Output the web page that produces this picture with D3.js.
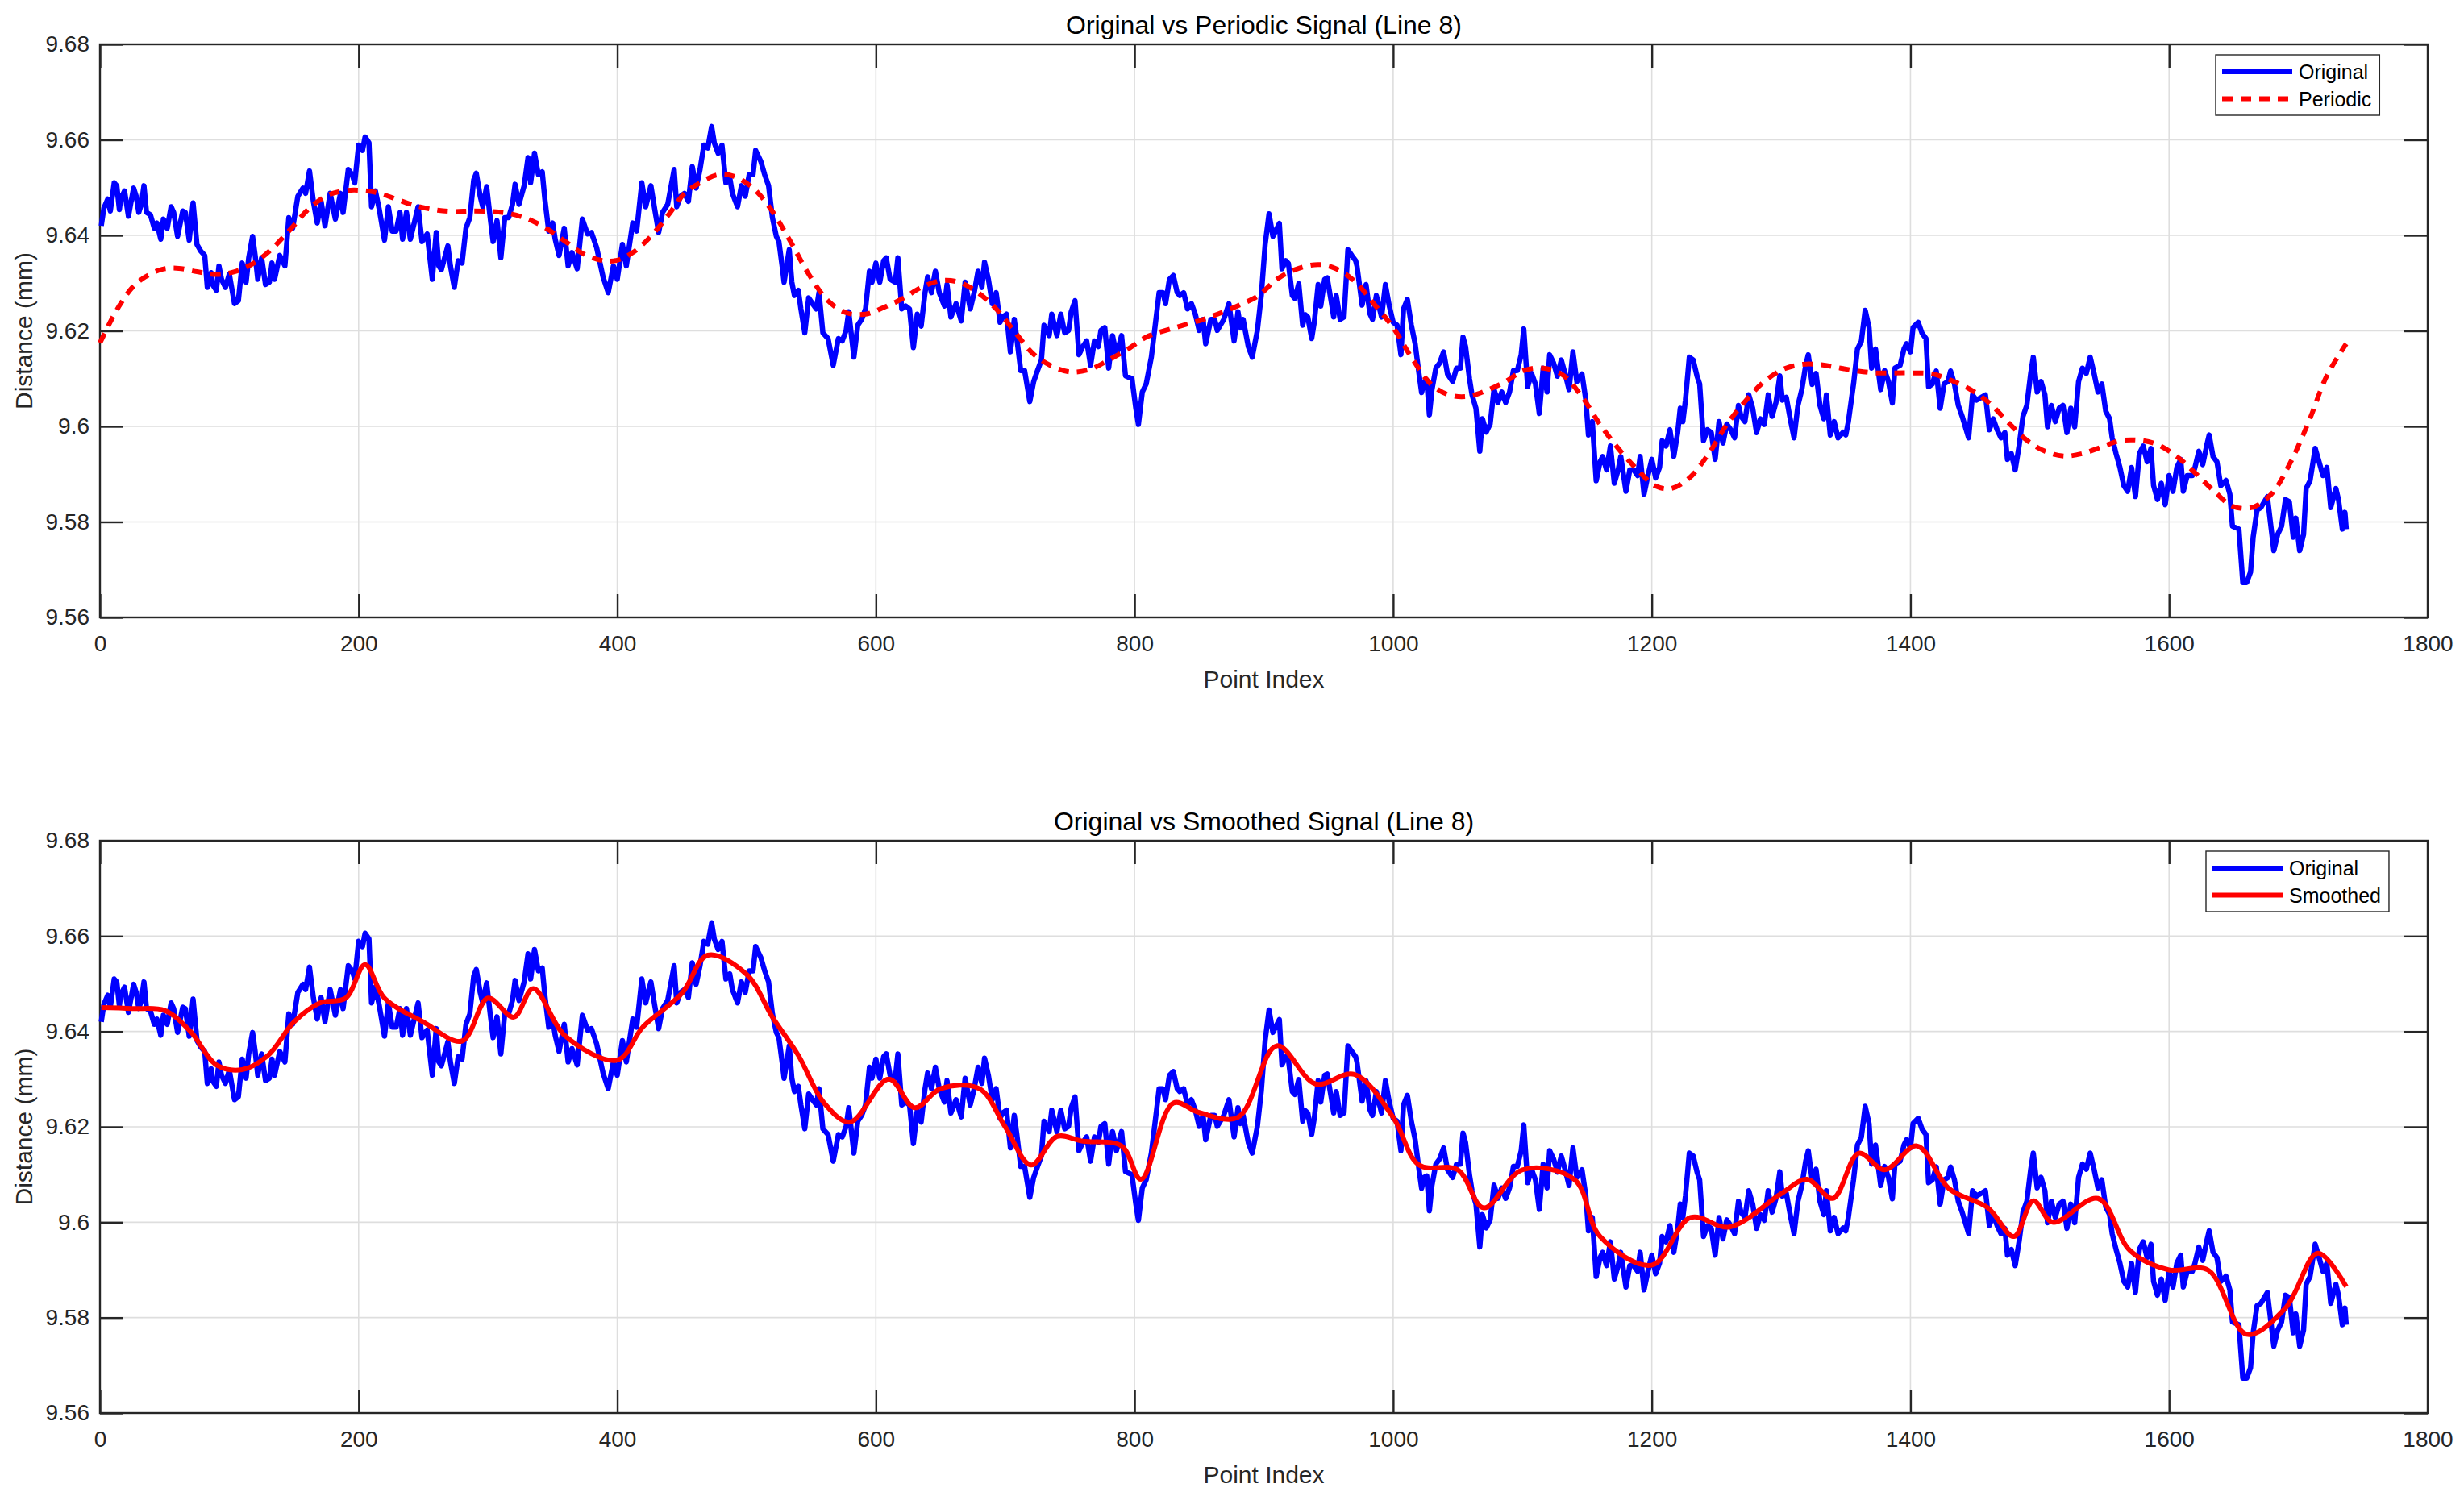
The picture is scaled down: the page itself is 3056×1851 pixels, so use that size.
<!DOCTYPE html>
<html>
<head>
<meta charset="utf-8">
<script src="https://cdn.jsdelivr.net/npm/d3@7.9.0/dist/d3.min.js"></script>
<style>
  body { margin: 0; background: #fff; }
  svg text { font-family: "Liberation Sans", Arial, Helvetica, sans-serif; }
</style>
</head>
<body>
<svg id="chart"></svg>
<script>
// ---- data: [point index, distance in mm] ----
const original = [
  [1,9.642],[3,9.6457],[6,9.6476],[8,9.6451],[11,9.651],[13,9.6504],[15,9.6454],[16,9.6476],[19,9.6493],[22,9.644],
  [26,9.6499],[28,9.6482],[30,9.6448],[32,9.6465],[34,9.6504],[36,9.6448],[39,9.6443],[42,9.6415],[44,9.6426],[47,9.6392],
  [49,9.6434],[52,9.6415],[55,9.646],[57,9.6448],[60,9.6398],[64,9.6451],[66,9.6448],[69,9.639],[72,9.6468],[75,9.6381],
  [78,9.6367],[81,9.6358],[83,9.6291],[86,9.6322],[87,9.6297],[90,9.6285],[92,9.6336],[94,9.6308],[97,9.6291],[100,9.6319],
  [104,9.6257],[107,9.6263],[110,9.6342],[113,9.6302],[115,9.6353],[118,9.6398],[120,9.6358],[122,9.6308],[125,9.6353],[128,9.6297],
  [131,9.6302],[133,9.6342],[135,9.6308],[139,9.6358],[143,9.6336],[146,9.6437],[149,9.6415],[153,9.6482],[157,9.6499],[159,9.6488],
  [162,9.6535],[165,9.6471],[168,9.6426],[171,9.6471],[174,9.642],[178,9.6488],[182,9.6434],[186,9.6488],[188,9.6448],[192,9.6538],
  [195,9.6527],[197,9.651],[200,9.6589],[203,9.6578],[205,9.6606],[208,9.6594],[210,9.646],[213,9.6493],[216,9.6454],[220,9.639],
  [223,9.646],[226,9.6409],[229,9.6409],[232,9.6448],[234,9.6392],[237,9.6448],[240,9.6392],[246,9.646],[249,9.6387],[253,9.6403],
  [257,9.6308],[260,9.6406],[262,9.6336],[264,9.6328],[267,9.6358],[269,9.6378],[271,9.6336],[274,9.6291],[277,9.6347],[280,9.6342],
  [283,9.6415],[286,9.6437],[289,9.6516],[291,9.653],[294,9.6482],[296,9.646],[299,9.6502],[302,9.6431],[304,9.6387],[307,9.6431],
  [310,9.6353],[313,9.6437],[316,9.6437],[319,9.6465],[321,9.6507],[324,9.6465],[328,9.6504],[331,9.6563],[333,9.651],[336,9.6572],
  [339,9.6527],[342,9.6533],[344,9.6476],[347,9.6409],[350,9.6426],[352,9.6392],[355,9.6358],[359,9.6415],[362,9.6336],[365,9.6364],
  [369,9.633],[373,9.6434],[377,9.6403],[380,9.6406],[384,9.6375],[389,9.6313],[393,9.628],[397,9.6336],[400,9.6308],[404,9.6381],
  [407,9.6336],[412,9.6426],[415,9.6409],[419,9.651],[422,9.646],[426,9.6504],[429,9.6454],[432,9.6406],[435,9.6448],[439,9.6465],
  [444,9.6538],[446,9.646],[449,9.6482],[452,9.6488],[455,9.6471],[458,9.6544],[461,9.6499],[464,9.6538],[467,9.6589],[470,9.6583],
  [473,9.6628],[475,9.6594],[478,9.6572],[481,9.6589],[484,9.651],[487,9.6521],[489,9.6488],[493,9.646],[496,9.6504],[499,9.6482],
  [502,9.6527],[505,9.6527],[507,9.6578],[511,9.6555],[514,9.6527],[517,9.6504],[520,9.6437],[523,9.6398],[525,9.6387],[528,9.6325],
  [529,9.6302],[533,9.637],[535,9.6302],[537,9.6274],[540,9.6285],[542,9.6246],[545,9.6196],[548,9.6269],[551,9.6257],[554,9.6246],
  [556,9.628],[559,9.6196],[563,9.6184],[567,9.6128],[571,9.6184],[574,9.6179],[577,9.6201],[579,9.624],[583,9.6145],[586,9.6212],
  [589,9.6224],[592,9.6246],[595,9.6325],[597,9.6302],[600,9.6342],[603,9.6302],[606,9.6347],[608,9.6353],[611,9.6308],[615,9.6302],
  [617,9.6353],[620,9.6246],[623,9.6252],[626,9.6246],[629,9.6165],[632,9.6235],[635,9.621],[638,9.628],[640,9.6313],[643,9.628],
  [646,9.6325],[649,9.628],[653,9.6252],[655,9.6297],[658,9.6229],[662,9.6257],[666,9.6221],[669,9.6302],[673,9.6246],[676,9.628],
  [679,9.6325],[682,9.6291],[684,9.6344],[687,9.6308],[690,9.6257],[693,9.628],[696,9.6218],[698,9.6229],[701,9.6235],[704,9.6156],
  [707,9.6224],[709,9.6184],[712,9.6117],[715,9.6117],[719,9.6052],[722,9.6094],[725,9.6117],[728,9.6139],[730,9.6212],[734,9.619],
  [736,9.6235],[740,9.619],[743,9.6235],[746,9.6196],[749,9.6201],[751,9.624],[754,9.6263],[757,9.615],[760,9.6167],[763,9.6179],
  [766,9.6128],[769,9.6179],[772,9.6167],[774,9.6201],[777,9.6207],[780,9.6122],[783,9.619],[786,9.615],[790,9.619],[793,9.6106],
  [798,9.61],[801,9.6038],[803,9.6004],[806,9.6072],[809,9.6089],[813,9.6145],[816,9.6212],[819,9.628],[822,9.628],[824,9.6257],
  [827,9.6308],[830,9.6316],[833,9.628],[835,9.6274],[838,9.628],[841,9.6246],[844,9.6257],[847,9.6235],[850,9.6201],[853,9.6224],
  [855,9.6173],[859,9.6224],[862,9.6224],[864,9.6201],[869,9.6224],[873,9.6257],[877,9.6179],[880,9.624],[882,9.6207],[884,9.6224],
  [888,9.6167],[891,9.6145],[895,9.6201],[898,9.6274],[901,9.6381],[904,9.6445],[907,9.6398],[912,9.6425],[914,9.633],[917,9.6347],
  [919,9.6341],[922,9.6274],[924,9.6268],[927,9.6299],[930,9.6212],[932,9.6234],[934,9.6229],[937,9.6184],[939,9.6218],[942,9.6297],
  [944,9.6252],[947,9.6308],[949,9.6311],[952,9.6263],[954,9.6229],[956,9.6274],[959,9.6224],[962,9.6229],[965,9.637],[968,9.6358],
  [971,9.6347],[972,9.6336],[976,9.6254],[979,9.6297],[982,9.6236],[984,9.6224],[987,9.6274],[991,9.6229],[994,9.6297],[997,9.6252],
  [1000,9.6218],[1003,9.6212],[1006,9.615],[1008,9.6246],[1011,9.6266],[1014,9.6213],[1017,9.6173],[1020,9.611],[1022,9.6071],[1024,9.6094],
  [1026,9.6097],[1028,9.6024],[1030,9.6077],[1033,9.6122],[1036,9.6133],[1039,9.6156],[1042,9.611],[1046,9.6094],[1049,9.6122],[1052,9.6122],
  [1054,9.6187],[1056,9.6167],[1059,9.61],[1061,9.6066],[1064,9.6038],[1067,9.5948],[1069,9.6016],[1072,9.5988],[1075,9.6005],[1078,9.6078],
  [1081,9.605],[1084,9.6072],[1087,9.605],[1090,9.6072],[1093,9.6117],[1096,9.6117],[1099,9.615],[1101,9.6204],[1104,9.6083],[1107,9.6111],
  [1110,9.6089],[1113,9.6027],[1116,9.6122],[1119,9.6072],[1121,9.615],[1124,9.6133],[1127,9.6105],[1130,9.6139],[1133,9.611],[1136,9.6077],
  [1139,9.6156],[1142,9.6094],[1146,9.611],[1149,9.6055],[1151,9.5982],[1154,9.601],[1157,9.5886],[1160,9.5926],[1162,9.5937],[1165,9.5909],
  [1168,9.5959],[1171,9.5881],[1174,9.5909],[1176,9.5937],[1180,9.5864],[1183,9.5909],[1186,9.5909],[1189,9.5897],[1191,9.5937],[1194,9.5858],
  [1197,9.5897],[1200,9.5931],[1203,9.5892],[1206,9.5914],[1208,9.597],[1211,9.5959],[1214,9.5993],[1217,9.5937],[1220,9.5987],[1222,9.6038],
  [1224,9.601],[1226,9.6055],[1229,9.6145],[1232,9.6139],[1235,9.6105],[1237,9.6089],[1240,9.597],[1243,9.5993],[1246,9.5987],[1249,9.5931],
  [1252,9.601],[1255,9.5965],[1258,9.6005],[1261,9.5993],[1264,9.5976],[1267,9.6044],[1269,9.6021],[1272,9.601],[1275,9.6066],[1278,9.6038],
  [1281,9.5987],[1284,9.6016],[1287,9.6004],[1290,9.6066],[1293,9.6021],[1296,9.605],[1299,9.6106],[1301,9.6055],[1304,9.6061],[1307,9.6016],
  [1310,9.5976],[1313,9.6044],[1316,9.6077],[1319,9.6128],[1321,9.615],[1324,9.6088],[1327,9.6111],[1330,9.6044],[1333,9.6016],[1335,9.6066],
  [1338,9.5982],[1341,9.601],[1344,9.5976],[1348,9.5988],[1350,9.5982],[1352,9.601],[1356,9.6089],[1359,9.6162],[1362,9.6178],[1365,9.6243],
  [1368,9.6207],[1370,9.6122],[1373,9.6162],[1377,9.6077],[1380,9.6117],[1383,9.6094],[1386,9.6049],[1388,9.6122],[1392,9.6128],[1395,9.6162],
  [1397,9.6173],[1400,9.6156],[1402,9.6207],[1406,9.6218],[1409,9.6195],[1412,9.6184],[1414,9.6083],[1417,9.6089],[1420,9.6116],[1423,9.6038],
  [1426,9.6089],[1429,9.6094],[1431,9.6116],[1434,9.6089],[1437,9.6044],[1440,9.6021],[1445,9.5976],[1448,9.6066],[1451,9.6055],[1455,9.6061],
  [1458,9.6066],[1461,9.5993],[1464,9.6016],[1467,9.5993],[1470,9.5976],[1473,9.5987],[1475,9.5931],[1478,9.5943],[1481,9.5909],[1484,9.5959],
  [1487,9.6021],[1490,9.6044],[1493,9.6111],[1495,9.6145],[1498,9.6072],[1501,9.6094],[1504,9.6066],[1506,9.5999],[1509,9.6044],[1512,9.601],
  [1515,9.6038],[1518,9.6044],[1521,9.5987],[1524,9.6038],[1527,9.5999],[1530,9.6094],[1533,9.6122],[1536,9.6111],[1539,9.6145],[1542,9.6111],
  [1545,9.6072],[1548,9.6089],[1551,9.6032],[1554,9.6016],[1556,9.5976],[1559,9.5943],[1562,9.5914],[1565,9.5876],[1568,9.5864],[1571,9.5914],
  [1574,9.5853],[1577,9.5943],[1580,9.5959],[1583,9.5926],[1586,9.5954],[1588,9.5876],[1591,9.5847],[1594,9.5881],[1597,9.5836],[1600,9.5897],
  [1603,9.5864],[1606,9.5914],[1609,9.5931],[1611,9.5864],[1614,9.5897],[1618,9.5897],[1620,9.5914],[1623,9.5948],[1626,9.592],[1629,9.5959],
  [1631,9.5982],[1634,9.5937],[1637,9.5926],[1640,9.5876],[1644,9.5887],[1647,9.5858],[1649,9.5791],[1654,9.5785],[1657,9.5673],[1660,9.5673],
  [1663,9.5695],[1665,9.5768],[1668,9.5825],[1671,9.583],[1676,9.5853],[1679,9.5785],[1681,9.574],[1684,9.5774],[1687,9.5791],[1690,9.5847],
  [1693,9.5842],[1696,9.5768],[1698,9.5808],[1701,9.574],[1704,9.5774],[1706,9.587],[1709,9.5886],[1713,9.5954],[1716,9.5926],[1719,9.5897],
  [1722,9.5914],[1725,9.583],[1729,9.587],[1731,9.5847],[1734,9.5785],[1736,9.582],[1737,9.5785]
];

const periodic = [
  [0,9.6175],[9,9.6224],[16,9.6257],[25,9.6291],[35,9.6313],[48,9.6329],[61,9.6331],[75,9.6324],[90,9.6318],[104,9.6324],
  [119,9.6342],[133,9.6372],[148,9.6415],[162,9.6457],[177,9.6485],[191,9.6494],[203,9.6494],[215,9.6489],[229,9.6476],[244,9.6462],
  [258,9.6454],[273,9.645],[287,9.6451],[302,9.645],[316,9.6446],[331,9.6434],[345,9.6415],[360,9.6387],[374,9.6361],[389,9.6347],
  [400,9.6348],[412,9.6364],[426,9.6398],[441,9.6448],[452,9.6488],[464,9.651],[478,9.6527],[490,9.6524],[505,9.6499],[519,9.6454],
  [534,9.6387],[548,9.6319],[563,9.6263],[577,9.6238],[592,9.6235],[606,9.6249],[621,9.6268],[635,9.6291],[650,9.6305],[664,9.6302],
  [679,9.628],[693,9.6246],[708,9.6196],[722,9.6151],[737,9.6125],[751,9.6114],[766,9.612],[780,9.6139],[795,9.6162],[809,9.6187],
  [824,9.6201],[838,9.6212],[853,9.6224],[867,9.6238],[882,9.6255],[896,9.6274],[910,9.6308],[924,9.6328],[942,9.6339],[956,9.633],
  [971,9.6302],[985,9.6257],[1000,9.6207],[1014,9.6145],[1029,9.6089],[1043,9.6066],[1058,9.6063],[1072,9.6075],[1087,9.6094],[1101,9.6117],
  [1116,9.6122],[1131,9.6108],[1145,9.6066],[1160,9.6004],[1174,9.5954],[1189,9.5909],[1203,9.5875],[1215,9.587],[1229,9.5892],[1244,9.5943],
  [1258,9.6004],[1273,9.6055],[1287,9.6094],[1302,9.612],[1317,9.613],[1331,9.6129],[1346,9.6122],[1359,9.6116],[1373,9.6112],[1388,9.6112],
  [1402,9.6112],[1417,9.611],[1431,9.6097],[1446,9.6078],[1461,9.6049],[1475,9.601],[1490,9.5971],[1504,9.5948],[1519,9.5938],[1533,9.5943],
  [1548,9.5957],[1562,9.597],[1577,9.5971],[1591,9.5962],[1606,9.5937],[1620,9.5903],[1635,9.5864],[1649,9.5833],[1664,9.583],[1679,9.5858],
  [1693,9.592],[1708,9.601],[1722,9.6106],[1737,9.6173]
];

const smoothed = [
  [1,9.645],[25,9.6448],[50,9.6444],[70,9.640],[90,9.633],[110,9.632],[130,9.635],[150,9.642],[170,9.646],[190,9.647],
  [205,9.654],[220,9.647],[250,9.642],[280,9.638],[300,9.647],[320,9.643],[335,9.649],[360,9.639],[400,9.634],[420,9.641],
  [450,9.648],[470,9.656],[500,9.652],[520,9.643],[540,9.635],[560,9.625],[580,9.621],[610,9.630],[630,9.624],[650,9.628],
  [680,9.628],[700,9.620],[720,9.612],[740,9.618],[760,9.617],[790,9.616],[805,9.609],[830,9.625],[850,9.623],[880,9.622],
  [910,9.637],[940,9.629],[970,9.631],[1000,9.622],[1020,9.612],[1050,9.611],[1070,9.603],[1100,9.611],[1140,9.609],[1160,9.597],
  [1200,9.591],[1230,9.601],[1260,9.599],[1300,9.606],[1320,9.609],[1340,9.605],[1360,9.6145],[1380,9.611],[1405,9.616],[1430,9.607],
  [1460,9.603],[1480,9.597],[1495,9.6045],[1510,9.600],[1545,9.605],[1570,9.594],[1600,9.590],[1630,9.590],[1660,9.5765],[1690,9.582],
  [1715,9.5935],[1737,9.5865]
];

const xTicks = [0, 200, 400, 600, 800, 1000, 1200, 1400, 1600, 1800];
const yTicks = [9.56, 9.58, 9.60, 9.62, 9.64, 9.66, 9.68];

const panels = [
  { title: 'Original vs Periodic Signal (Line 8)', top: 55, bottom: 766,
    second: periodic, secondName: 'Periodic', dashed: true, legendLeft: 2748 },
  { title: 'Original vs Smoothed Signal (Line 8)', top: 1043, bottom: 1753,
    second: smoothed, secondName: 'Smoothed', dashed: false, legendLeft: 2736 }
];

// ---- drawing ----
const W = 3056, H = 1851;
const left = 124, right = 3011;
const ink = '#262626';

const svg = d3.select('#chart').attr('width', W).attr('height', H);

const x = d3.scaleLinear().domain([0, 1800]).range([left, right]);

panels.forEach(p => {
  const y = d3.scaleLinear().domain([9.56, 9.68]).range([p.bottom, p.top]);
  const g = svg.append('g');

  // grid
  g.append('g').selectAll('line').data(xTicks.slice(1, -1)).join('line')
    .attr('x1', d => x(d)).attr('x2', d => x(d))
    .attr('y1', p.top).attr('y2', p.bottom)
    .attr('stroke', '#dedede').attr('stroke-width', 1.6);
  g.append('g').selectAll('line').data(yTicks.slice(1, -1)).join('line')
    .attr('y1', d => y(d)).attr('y2', d => y(d))
    .attr('x1', left).attr('x2', right)
    .attr('stroke', '#dedede').attr('stroke-width', 1.6);

  // axes, ticks pointing inward on all four sides
  const fmt = d => String(+d.toFixed(2));
  const styleAxis = sel => {
    sel.select('.domain').remove();
    sel.selectAll('.tick line').attr('stroke', ink).attr('stroke-width', 2.4);
    sel.selectAll('.tick text').attr('fill', ink).style('font-size', '28px');
  };
  g.append('g').attr('transform', `translate(0,${p.bottom})`)
    .call(d3.axisBottom(x).tickValues(xTicks).tickFormat(fmt).tickSizeInner(-29).tickSizeOuter(0).tickPadding(22))
    .call(styleAxis);
  g.append('g').attr('transform', `translate(0,${p.top})`)
    .call(d3.axisTop(x).tickValues(xTicks).tickFormat('').tickSizeInner(-29).tickSizeOuter(0))
    .call(styleAxis);
  g.append('g').attr('transform', `translate(${left},0)`)
    .call(d3.axisLeft(y).tickValues(yTicks).tickFormat(fmt).tickSizeInner(-29).tickSizeOuter(0).tickPadding(13))
    .call(styleAxis);
  g.append('g').attr('transform', `translate(${right},0)`)
    .call(d3.axisRight(y).tickValues(yTicks).tickFormat('').tickSizeInner(-29).tickSizeOuter(0))
    .call(styleAxis);
  g.append('rect')
    .attr('x', left).attr('y', p.top)
    .attr('width', right - left).attr('height', p.bottom - p.top)
    .attr('fill', 'none').attr('stroke', ink).attr('stroke-width', 2.4);

  // series
  const rawLine = d3.line().x(d => x(d[0])).y(d => y(d[1]));
  const smoothLine = d3.line().x(d => x(d[0])).y(d => y(d[1])).curve(d3.curveCatmullRom.alpha(0.5));

  g.append('path').datum(original)
    .attr('d', rawLine)
    .attr('fill', 'none').attr('stroke', '#0000ff')
    .attr('stroke-width', 6.5).attr('stroke-linejoin', 'round');

  g.append('path').datum(p.second)
    .attr('d', smoothLine)
    .attr('fill', 'none').attr('stroke', '#ff0000')
    .attr('stroke-width', 6)
    .attr('stroke-dasharray', p.dashed ? '13,10' : null);

  // titles and labels
  g.append('text')
    .attr('x', (left + right) / 2).attr('y', p.top - 13)
    .attr('text-anchor', 'middle').attr('fill', '#000')
    .style('font-size', '32px')
    .text(p.title);
  g.append('text')
    .attr('x', (left + right) / 2).attr('y', p.bottom + 87)
    .attr('text-anchor', 'middle').attr('fill', ink)
    .style('font-size', '30px')
    .text('Point Index');
  g.append('text')
    .attr('transform', `translate(40,${(p.top + p.bottom) / 2}) rotate(-90)`)
    .attr('text-anchor', 'middle').attr('fill', ink)
    .style('font-size', '30px')
    .text('Distance (mm)');

  // legend
  const items = [
    { name: 'Original', color: '#0000ff', dash: null },
    { name: p.secondName, color: '#ff0000', dash: p.dashed ? '13,10' : null }
  ];
  const lg = g.append('g');
  const box = lg.append('rect')
    .attr('x', p.legendLeft).attr('y', p.top + 13)
    .attr('height', 75)
    .attr('fill', '#fff').attr('stroke', ink).attr('stroke-width', 1.4);
  let maxText = 0;
  items.forEach((it, i) => {
    const cy = p.top + 34 + i * 33.5;
    lg.append('line')
      .attr('x1', p.legendLeft + 8).attr('x2', p.legendLeft + 95)
      .attr('y1', cy).attr('y2', cy)
      .attr('stroke', it.color).attr('stroke-width', 6)
      .attr('stroke-dasharray', it.dash);
    const t = lg.append('text')
      .attr('x', p.legendLeft + 103).attr('y', cy)
      .attr('dominant-baseline', 'central').attr('fill', '#000')
      .style('font-size', '25px')
      .text(it.name);
    maxText = Math.max(maxText, t.node().getComputedTextLength());
  });
  box.attr('width', 103 + maxText + 10);
});
</script>
</body>
</html>
